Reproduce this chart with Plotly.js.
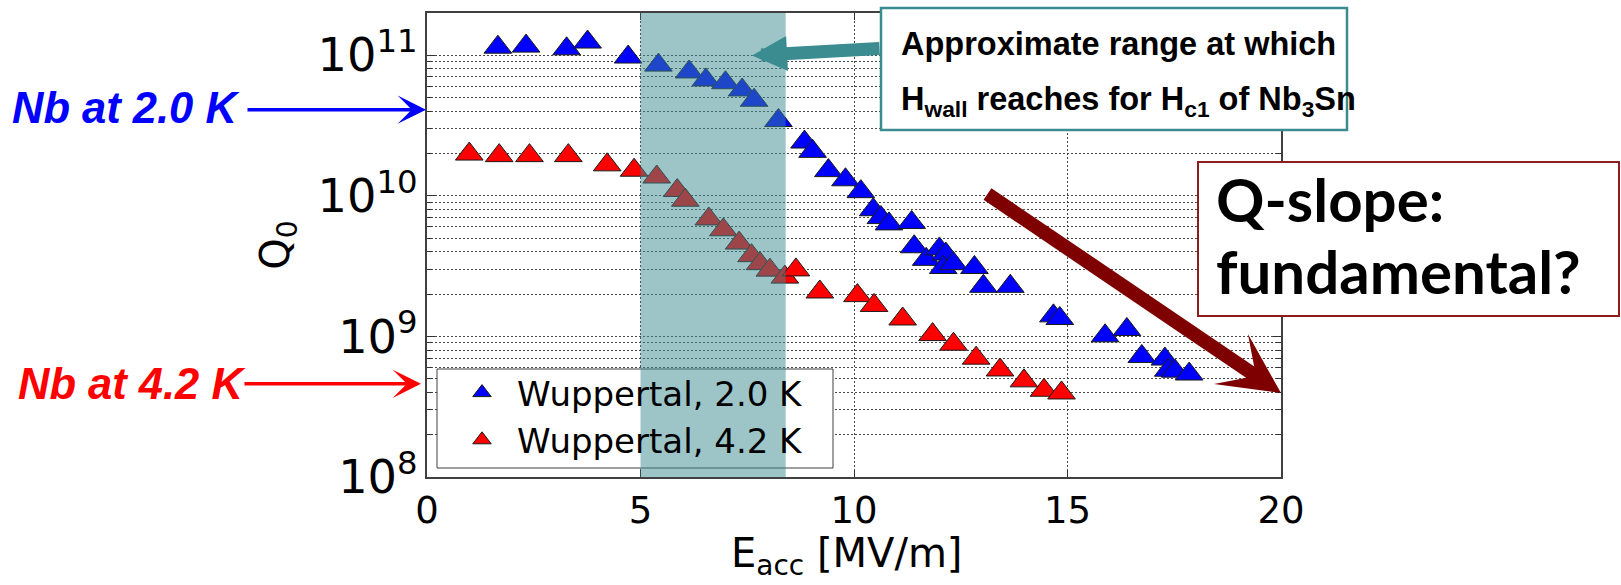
<!DOCTYPE html>
<html>
<head>
<meta charset="utf-8">
<script src="https://cdn.plot.ly/plotly-3.0.1.min.js"></script>
<style>html,body{margin:0;padding:0;background:#fff;}</style>
</head>
<body>
<div id="chart" style="width:1621px;height:585px;"></div>
<script>
// ---- data ----
const eacc20 = [1.66, 2.32, 3.27, 3.76, 4.71, 5.42, 6.14, 6.53, 6.99, 7.38, 7.66, 8.23, 8.84, 9.03, 9.40, 9.80, 10.16, 10.45, 10.63, 10.82, 11.35, 11.41, 11.69, 12.00, 12.15, 12.09, 12.33, 12.82, 13.03, 13.66, 14.67, 14.82, 15.88, 16.39, 16.74, 17.28, 17.36, 17.52, 17.85];
const q20 = [1.14e11, 1.16e11, 1.11e11, 1.24e11, 9.7e10, 8.5e10, 7.6e10, 6.67e10, 6.37e10, 5.66e10, 4.78e10, 3.43e10, 2.41e10, 2.07e10, 1.51e10, 1.30e10, 1.07e10, 7.96e9, 7.0e9, 6.31e9, 6.46e9, 4.34e9, 3.53e9, 4.19e9, 3.85e9, 3.09e9, 3.29e9, 3.09e9, 2.27e9, 2.27e9, 1.40e9, 1.34e9, 1.01e9, 1.12e9, 7.2e8, 6.9e8, 5.75e8, 5.66e8, 5.4e8];
const eacc42 = [0.99, 1.69, 2.40, 3.31, 4.22, 4.85, 5.38, 5.86, 6.05, 6.60, 6.94, 7.31, 7.60, 7.80, 8.03, 8.38, 8.64, 9.20, 10.08, 10.47, 11.14, 11.84, 12.33, 12.86, 13.42, 13.98, 14.45, 14.86];
const q42 = [1.98e10, 1.93e10, 1.93e10, 1.93e10, 1.66e10, 1.52e10, 1.36e10, 1.09e10, 9.3e9, 6.84e9, 5.73e9, 4.61e9, 3.75e9, 3.29e9, 2.96e9, 2.64e9, 2.97e9, 2.07e9, 1.95e9, 1.66e9, 1.33e9, 1.03e9, 8.8e8, 7.0e8, 5.77e8, 4.83e8, 4.14e8, 3.96e8];
const seriesNames = ["Wuppertal, 2.0 K", "Wuppertal, 4.2 K"];
const xTicks = [0, 5, 10, 15, 20];
const hc1Range = [5, 8.4];          // shaded E_acc band
const nbQ20 = 4.1e10;               // Nb at 2.0 K reference level
const nbQ42 = 4.6e8;                // Nb at 4.2 K reference level

// ---- styling ----
const mplFont = 'DejaVu Sans';
const arial = 'Liberation Sans, Arial, sans-serif';
const gridCol = 'rgba(40,40,40,0.85)';
const teal = '#3B8C90';
const maroon = '#7F0000';

const traces = [
  {x: eacc20, y: q20, name: seriesNames[0], type: 'scatter', mode: 'markers',
   marker: {symbol: 'triangle-up', size: 24, color: '#0000FF', line: {color: '#1a1a1a', width: 1}}},
  {x: eacc42, y: q42, name: seriesNames[1], type: 'scatter', mode: 'markers',
   marker: {symbol: 'triangle-up', size: 24, color: '#FF0000', line: {color: '#1a1a1a', width: 1}}}
];

const L = 427, R = 1281, T = 13, B = 477;
const px = v => (v - L) / (R - L);
const py = v => (B - v) / (B - T);

const layout = {
  width: 1621, height: 585,
  margin: {l: L, r: 1621 - R, t: T, b: 585 - B},
  paper_bgcolor: '#fff', plot_bgcolor: '#fff',
  showlegend: true,
  legend: {x: px(447), y: py(364), xanchor: 'left', yanchor: 'top', itemwidth: 60,
           bgcolor: 'rgba(0,0,0,0)', borderwidth: 0,
           font: {family: mplFont, size: 34, color: '#000'}},
  xaxis: {range: [0, 20], tickvals: xTicks, ticks: 'inside', ticklen: 7, tickcolor: '#333',
          showline: true, mirror: 'ticks', linecolor: '#404040', linewidth: 2,
          showgrid: true, gridcolor: gridCol, griddash: '2px,2px', gridwidth: 1, zeroline: false,
          tickfont: {family: mplFont, size: 37, color: '#000'}},
  yaxis: {type: 'log', range: [8, 11.3], dtick: 1, exponentformat: 'power',
          ticks: 'inside', ticklen: 8, tickcolor: '#333',
          minor: {dtick: 'D1', ticks: 'inside', ticklen: 5, tickcolor: '#333',
                  showgrid: true, gridcolor: gridCol, griddash: '2px,2px', gridwidth: 1},
          showline: true, mirror: 'ticks', linecolor: '#404040', linewidth: 2,
          showgrid: true, gridcolor: gridCol, griddash: '2px,2px', gridwidth: 1, zeroline: false,
          tickfont: {family: mplFont, size: 37, color: '#000'},
          title: {text: 'Q<sub>0</sub>', font: {family: mplFont, size: 40, color: '#000'}, standoff: 16}},
  shapes: [
    // legend box
    {type: 'rect', xref: 'paper', yref: 'paper', x0: px(437), x1: px(833), y0: py(468), y1: py(369),
     fillcolor: '#fff', line: {color: '#404040', width: 1}, layer: 'above'},
    // shaded Hc1 band
    {type: 'rect', xref: 'x', yref: 'paper', x0: hc1Range[0], x1: hc1Range[1], y0: 0, y1: 1,
     fillcolor: 'rgba(60,140,145,0.5)', line: {width: 0}, layer: 'above'},
    // teal text box
    {type: 'rect', xref: 'paper', yref: 'paper', x0: px(881), x1: px(1347), y0: py(130), y1: py(8),
     fillcolor: '#fff', line: {color: teal, width: 2.5}, layer: 'above'},
    // Q-slope box
    {type: 'rect', xref: 'paper', yref: 'paper', x0: px(1198), x1: px(1619), y0: py(316), y1: py(162),
     fillcolor: '#fff', line: {color: '#8E1E1E', width: 2}, layer: 'above'}
  ],
  annotations: [
    // x axis title
    {xref: 'paper', yref: 'paper', x: px(846), y: py(556), xanchor: 'center', yanchor: 'middle', showarrow: false,
     text: 'E<sub>acc</sub> [MV/m]', font: {family: mplFont, size: 40, color: '#000'}},
    {xref: 'paper', yref: 'paper', x: px(10), y: py(107.5), xanchor: 'left', yanchor: 'middle', showarrow: false,
     text: '<b><i>Nb at 2.0 K</i></b>', font: {family: arial, size: 43.5, color: '#0000FF'}},
    {xref: 'paper', yref: 'y', x: px(426), y: Math.log10(nbQ20), ax: -180, ay: 0, text: '', showarrow: true,
     arrowhead: 3, arrowsize: 1.35, arrowwidth: 3.5, arrowcolor: '#0000FF', standoff: 0},
    {xref: 'paper', yref: 'paper', x: px(16), y: py(384), xanchor: 'left', yanchor: 'middle', showarrow: false,
     text: '<b><i>Nb at 4.2 K</i></b>', font: {family: arial, size: 43.5, color: '#FF0000'}},
    {xref: 'paper', yref: 'y', x: px(421), y: Math.log10(nbQ42), ax: -178, ay: 0, text: '', showarrow: true,
     arrowhead: 3, arrowsize: 1.35, arrowwidth: 3.5, arrowcolor: '#FF0000', standoff: 0},
    // teal arrow to shaded band
    {xref: 'paper', yref: 'paper', x: px(752), y: py(55.5), ax: 129, ay: -7, text: '', showarrow: true,
     arrowhead: 2, arrowsize: 0.54, arrowwidth: 13, arrowcolor: teal, standoff: 0},
    {xref: 'paper', yref: 'paper', x: px(899), y: py(44), xanchor: 'left', yanchor: 'middle', showarrow: false,
     text: '<b>Approximate range at which</b>', font: {family: arial, size: 32.5, color: '#000'}},
    {xref: 'paper', yref: 'paper', x: px(899), y: py(102), xanchor: 'left', yanchor: 'middle', showarrow: false,
     text: '<b>H<sub>wall</sub> reaches for H<sub>c1</sub> of Nb<sub>3</sub>Sn</b>', font: {family: arial, size: 32.5, color: '#000'}},
    // Q-slope
    {xref: 'paper', yref: 'paper', x: px(1214), y: py(199), xanchor: 'left', yanchor: 'middle', showarrow: false,
     text: '<b>Q-slope:</b>', font: {family: 'Lato', size: 60, color: '#000'}},
    {xref: 'paper', yref: 'paper', x: px(1214), y: py(271), xanchor: 'left', yanchor: 'middle', showarrow: false,
     text: '<b>fundamental?</b>', font: {family: 'Lato', size: 60, color: '#000'}},
    {xref: 'paper', yref: 'paper', x: px(1281), y: py(393), ax: -295, ay: -200, text: '', showarrow: true,
     arrowhead: 3, arrowsize: 0.72, arrowwidth: 14, arrowcolor: maroon, standoff: 0}
  ]
};

Plotly.newPlot('chart', traces, layout, {displayModeBar: false, staticPlot: true});
</script>
</body>
</html>
